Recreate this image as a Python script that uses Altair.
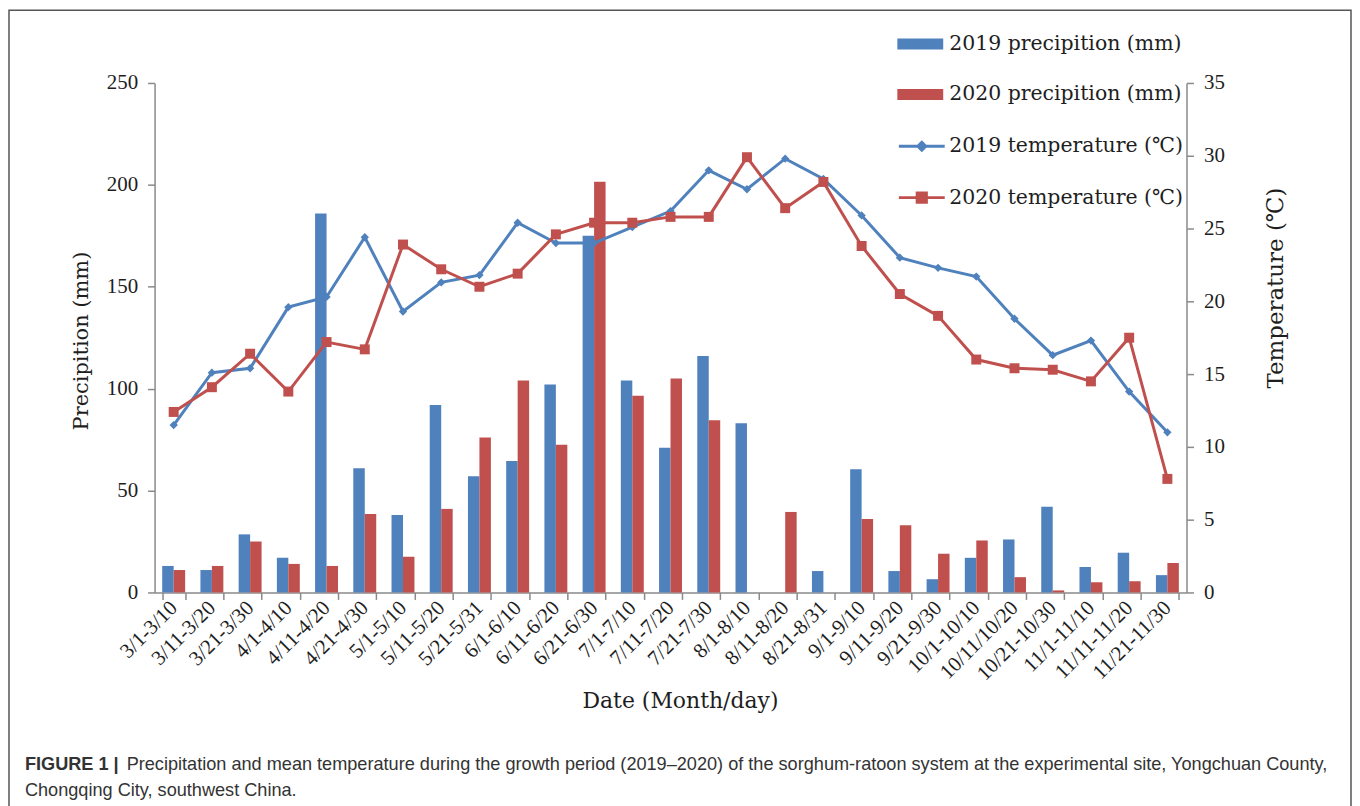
import altair as alt
import pandas as pd

# ---- data ----
cats = ["3/1-3/10", "3/11-3/20", "3/21-3/30", "4/1-4/10", "4/11-4/20", "4/21-4/30",
        "5/1-5/10", "5/11-5/20", "5/21-5/31", "6/1-6/10", "6/11-6/20", "6/21-6/30",
        "7/1-7/10", "7/11-7/20", "7/21-7/30", "8/1-8/10", "8/11-8/20", "8/21-8/31",
        "9/1-9/10", "9/11-9/20", "9/21-9/30", "10/1-10/10", "10/11/10/20", "10/21-10/30",
        "11/1-11/10", "11/11-11/20", "11/21-11/30"]

precip_2019 = [13, 11, 28.5, 17, 186, 61, 38, 92, 57, 64.5, 102, 175, 104, 71, 116, 83,
               0, 10.5, 60.5, 10.5, 6.5, 17, 26, 42, 12.5, 19.5, 8.5]
precip_2020 = [11, 13, 25, 14, 13, 38.5, 17.5, 41, 76, 104, 72.5, 201.5, 96.5, 105, 84.5, 0,
               39.5, 0, 36, 33, 19, 25.5, 7.5, 1, 5, 5.5, 14.5]
temp_2019 = [11.5, 15.1, 15.4, 19.6, 20.3, 24.4, 19.3, 21.3, 21.8, 25.4, 24.0, 24.0, 25.1,
             26.2, 29.0, 27.7, 29.8, 28.4, 25.9, 23.0, 22.3, 21.7, 18.8, 16.3, 17.3, 13.8, 11.0]
temp_2020 = [12.4, 14.1, 16.4, 13.8, 17.2, 16.7, 23.9, 22.2, 21.0, 21.9, 24.6, 25.4, 25.4,
             25.8, 25.8, 29.9, 26.4, 28.2, 23.8, 20.5, 19.0, 16.0, 15.4, 15.3, 14.5, 17.5, 7.8]

bar_series = ["2019 precipition (mm)", "2020 precipition (mm)"]
line_series = ["2019 temperature (℃)", "2020 temperature (℃)"]

caption_bold = "FIGURE 1 |"
caption_line1 = ("Precipitation and mean temperature during the growth period (2019–2020) of the "
                 "sorghum-ratoon system at the experimental site, Yongchuan County,")
caption_line2 = "Chongqing City, southwest China."

blue = "#4F81BD"
red = "#C0504D"
grey = "#8a8a8a"
txt = "#1e1e1e"
serif_num = "Liberation Serif"
serif_txt = "DejaVu Serif"

n = len(cats)
precip = pd.DataFrame({"cat": cats * 2,
                       "series": [bar_series[0]] * n + [bar_series[1]] * n,
                       "p": precip_2019 + precip_2020})
temp = pd.DataFrame({"cat": cats * 2,
                     "series": [line_series[0]] * n + [line_series[1]] * n,
                     "t": temp_2019 + temp_2020})
one = pd.DataFrame({"a": [0]})

x_axis = alt.Axis(title="Date (Month/day)", labelAngle=315, labelAlign="right",
                  labelBaseline="middle", labelOverlap=False, labelPadding=5,
                  labelFont=serif_num, labelFontSize=21, labelColor=txt,
                  tickBand="extent", tickSize=7, tickColor=grey, tickWidth=1.5,
                  domainColor=grey, domainWidth=1.5, grid=False,
                  titleFont=serif_txt, titleFontSize=22, titleFontWeight="normal",
                  titleColor=txt, titleX=527, titleY=115, titleAlign="center",
                  titleBaseline="alphabetic")
x_enc = alt.X("cat:N", sort=cats,
              scale=alt.Scale(paddingInner=0.4, paddingOuter=0.2), axis=x_axis)

left_axis = alt.Axis(orient="left", values=[0, 50, 100, 150, 200, 250],
                     title="Precipition (mm)", grid=False,
                     domainColor=grey, domainWidth=1.5, tickColor=grey, tickWidth=1.5,
                     tickSize=7, labelFont=serif_num, labelFontSize=21, labelColor=txt,
                     labelPadding=10, titleFont=serif_txt, titleFontSize=21,
                     titleFontWeight="normal", titleColor=txt, titleAngle=270,
                     titleAlign="left", titleBaseline="alphabetic", titleX=-67, titleY=348)
right_axis = alt.Axis(orient="right", values=[0, 5, 10, 15, 20, 25, 30, 35],
                      title="Temperature (℃)", grid=False,
                      domainColor=grey, domainWidth=1.5, tickColor=grey, tickWidth=1.5,
                      tickSize=7, labelFont=serif_num, labelFontSize=21, labelColor=txt,
                      labelPadding=10, titleFont=serif_txt, titleFontSize=23,
                      titleFontWeight="normal", titleColor=txt, titleAngle=270,
                      titleAlign="left", titleBaseline="alphabetic", titleX=96, titleY=306)

y_p = alt.Y("p:Q", scale=alt.Scale(domain=[0, 250], nice=False), axis=left_axis)
y_t = alt.Y("t:Q", scale=alt.Scale(domain=[0, 35], nice=False), axis=right_axis)

bar_legend = alt.Legend(orient="none", legendX=745, legendY=-62, title=None, padding=0,
                        symbolType="M-1,-0.24H1V0.24H-1Z", symbolSize=2116,
                        symbolStrokeWidth=0, labelFont=serif_txt, labelFontSize=20.5,
                        labelColor=txt, labelOffset=6, rowPadding=16.5, labelLimit=400)
line_legend = alt.Legend(orient="none", legendX=745, legendY=39, title=None, padding=0,
                         symbolSize=2116, symbolStrokeWidth=3, labelFont=serif_txt,
                         labelFontSize=20.5, labelColor=txt, labelOffset=3, rowPadding=16.5,
                         labelLimit=400, symbolOpacity=1)

bars = alt.Chart(precip).mark_bar(opacity=1).encode(
    x=x_enc,
    xOffset=alt.XOffset("series:N", sort=bar_series,
                        scale=alt.Scale(paddingInner=0, paddingOuter=0)),
    y=y_p,
    fill=alt.Fill("series:N", scale=alt.Scale(domain=bar_series, range=[blue, red]),
                  legend=bar_legend),
)

def line_layer(series, color):
    return alt.Chart(temp).transform_filter(alt.datum.series == series).mark_line(
        color=color, strokeWidth=3).encode(x=x_enc, y=y_t)

def point_layer(series, color, shape, size):
    return alt.Chart(temp).transform_filter(alt.datum.series == series).mark_point(
        shape=shape, filled=True, size=size, color=color, opacity=1).encode(x=x_enc, y=y_t)

legend_paths = ["M-1,0H1M0,-0.17L0.17,0L0,0.17L-0.17,0Z",
                "M-1,0H1M-0.2,-0.2H0.2V0.2H-0.2Z"]
legend_only = alt.Chart(temp).transform_filter("datum.t < -1000").mark_point(
    filled=True, opacity=1, strokeWidth=3).encode(
    x=x_enc, y=y_t,
    color=alt.Color("series:N", scale=alt.Scale(domain=line_series, range=[blue, red]),
                    legend=line_legend),
    stroke=alt.Stroke("series:N", scale=alt.Scale(domain=line_series, range=[blue, red]),
                      legend=line_legend),
    shape=alt.Shape("series:N", scale=alt.Scale(domain=line_series, range=legend_paths),
                    legend=line_legend),
)

temps = alt.layer(
    line_layer(line_series[0], blue),
    line_layer(line_series[1], red),
    point_layer(line_series[0], blue, "diamond", 70),
    point_layer(line_series[1], red, "square", 100),
    legend_only,
)

frame = alt.Chart(one).mark_rect(fillOpacity=0, stroke="#555555", strokeWidth=1.5).encode(
    x=alt.value(-146), x2=alt.value(1200), y=alt.value(-73), y2=alt.value(760))

cap_style = dict(align="left", baseline="alphabetic", font="Liberation Sans",
                 fontSize=18.2, color="#333333")
cap1 = alt.Chart(one).mark_text(fontWeight="bold", **cap_style).encode(
    x=alt.value(-130), y=alt.value(689), text=alt.value(caption_bold))
cap2 = alt.Chart(one).mark_text(**cap_style).encode(
    x=alt.value(-28), y=alt.value(689), text=alt.value(caption_line1))
cap3 = alt.Chart(one).mark_text(**cap_style).encode(
    x=alt.value(-130), y=alt.value(715), text=alt.value(caption_line2))

chart = alt.layer(bars, temps, frame, cap1, cap2, cap3).resolve_scale(
    y="independent"
).properties(
    width=1035, height=511,
    autosize=alt.AutoSizeParams(type="none"),
    padding={"left": 147, "top": 74, "right": 166, "bottom": 213},
).configure_view(strokeWidth=0)

chart.save("out.html", embed_options={"renderer": "svg", "actions": False})
